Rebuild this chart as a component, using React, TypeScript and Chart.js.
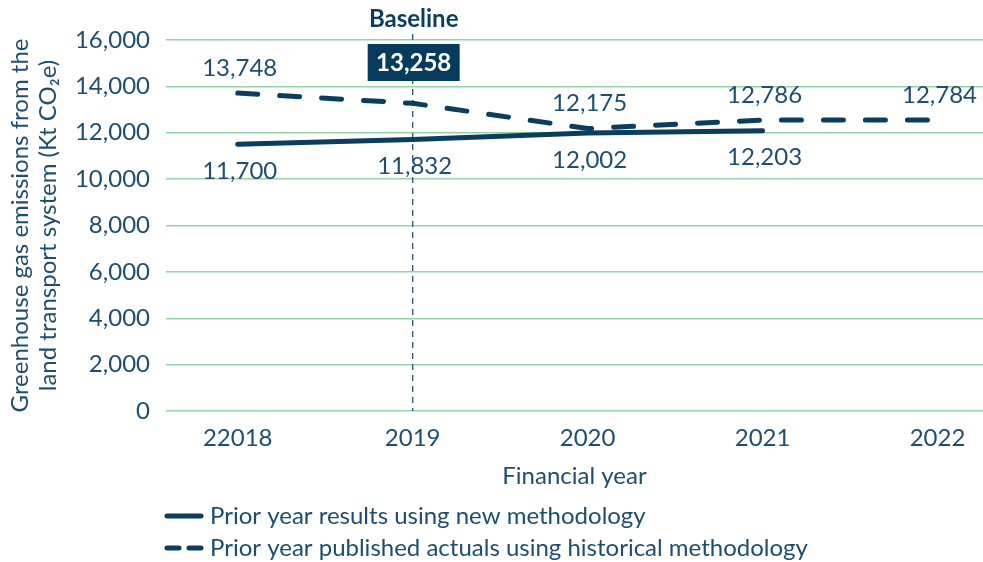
import React, { useEffect, useRef } from "react";
import { Chart, registerables } from "chart.js";

Chart.register(...registerables);

const categories = ["22018", "2019", "2020", "2021", "2022"];
// values as drawn on the picture
const newMethodValues = [11500, 11710, 11990, 12090];
const historicalValues = [13710, 13270, 12180, 12550, 12550];
// values as printed on the picture
const newMethodLabels = ["11,700", "11,832", "12,002", "12,203"];
const historicalLabels = ["13,748", "13,258", "12,175", "12,786", "12,784"];
const yTicks = [0, 2000, 4000, 6000, 8000, 10000, 12000, 14000, 16000];
const baselineIndex = 1;
const seriesNames = [
  "Prior year results using new methodology",
  "Prior year published actuals using historical methodology",
];

const NAVY = "#0a3d5e";
const TEXT = "#1e4d6e";
const GRID = "#93d4a6";
const FONT = "Lato";
const FS = 24;

export default function App() {
  const ref = useRef<HTMLCanvasElement>(null);
  useEffect(() => {
    document.body.style.margin = "0";
    const canvas = ref.current!;
    const overlay = {
      id: "overlay",
      beforeDatasetsDraw(chart: any) {
        const { ctx, chartArea, scales } = chart;
        const x = scales.x.getPixelForValue(baselineIndex);
        ctx.save();
        ctx.strokeStyle = "#2c5575";
        ctx.lineWidth = 1.3;
        ctx.setLineDash([6, 5]);
        ctx.beginPath();
        ctx.moveTo(x, chartArea.top - 6);
        ctx.lineTo(x, chartArea.bottom);
        ctx.stroke();
        ctx.restore();
      },
      afterDraw(chart: any) {
        const { ctx, scales } = chart;
        const xs = scales.x, ys = scales.y;
        ctx.save();
        ctx.textAlign = "center";
        ctx.textBaseline = "middle";
        const bx = xs.getPixelForValue(baselineIndex);
        ctx.fillStyle = NAVY;
        ctx.font = `bold ${FS}px ${FONT}`;
        ctx.fillText("Baseline", bx + 1, 19);
        ctx.font = `${FS}px ${FONT}`;
        historicalValues.forEach((v, i) => {
          const px = xs.getPixelForValue(i);
          const py = ys.getPixelForValue(v);
          if (i === baselineIndex) {
            ctx.fillStyle = "#063b5c";
            ctx.fillRect(px - 45, 44, 92, 37);
            ctx.fillStyle = "#ffffff";
            ctx.font = `bold 24px ${FONT}`;
            ctx.fillText(historicalLabels[i], px + 1, 63);
            ctx.font = `${FS}px ${FONT}`;
          } else {
            ctx.fillStyle = TEXT;
            ctx.fillText(historicalLabels[i], px + 2, py - 25);
          }
        });
        newMethodValues.forEach((v, i) => {
          const px = xs.getPixelForValue(i);
          const py = ys.getPixelForValue(v);
          ctx.fillStyle = TEXT;
          ctx.fillText(newMethodLabels[i], px + 2, py + 27);
        });
        // legend
        const rows = [516, 548];
        ctx.textAlign = "left";
        chart.data.datasets.forEach((ds: any, i: number) => {
          const y = rows[i];
          ctx.strokeStyle = NAVY;
          ctx.lineWidth = 5;
          ctx.lineCap = "round";
          ctx.beginPath();
          if (i === 0) {
            ctx.moveTo(167, y);
            ctx.lineTo(201, y);
          } else {
            ctx.moveTo(167, y);
            ctx.lineTo(179, y);
            ctx.moveTo(189, y);
            ctx.lineTo(201, y);
          }
          ctx.stroke();
          ctx.fillStyle = TEXT;
          ctx.font = `${FS}px ${FONT}`;
          ctx.fillText(ds.label, 210, y);
        });
        ctx.restore();
      },
    };
    const chart = new Chart(canvas, {
      type: "line",
      data: {
        datasets: [
          {
            label: seriesNames[0],
            data: newMethodValues.map((v, i) => ({ x: i, y: v })),
            borderColor: NAVY,
            borderWidth: 5,
            borderCapStyle: "round",
            pointRadius: 0,
            tension: 0,
          },
          {
            label: seriesNames[1],
            data: historicalValues.map((v, i) => ({ x: i, y: v })),
            borderColor: NAVY,
            borderWidth: 5,
            borderDash: [20, 22],
            borderCapStyle: "round",
            pointRadius: 0,
            tension: 0,
          },
        ],
      },
      options: {
        animation: false,
        responsive: false,
        maintainAspectRatio: false,
        layout: { padding: { top: 40, right: 0, bottom: 71, left: 0 } },
        plugins: { legend: { display: false }, tooltip: { enabled: false } },
        scales: {
          x: {
            type: "linear",
            min: -0.41,
            max: 4.26,
            grid: { display: false, drawTicks: false },
            border: { display: false },
            afterBuildTicks: (s: any) => {
              s.ticks = categories.map((_, i) => ({ value: i }));
            },
            afterFit: (s: any) => {
              s.height = 80;
            },
            ticks: {
              padding: 12.5,
              color: TEXT,
              font: { family: FONT, size: FS },
              autoSkip: false,
              maxRotation: 0,
              callback: (v: any) => categories[v] ?? "",
            },
            title: {
              display: true,
              text: "Financial year",
              color: TEXT,
              font: { family: FONT, size: FS },
              padding: { top: 0, bottom: 0 },
            },
          },
          y: {
            min: 0,
            max: 16000,
            afterBuildTicks: (s: any) => {
              s.ticks = yTicks.map((v) => ({ value: v }));
            },
            afterFit: (s: any) => {
              s.width = 166;
            },
            grid: { color: GRID, lineWidth: 1.5, drawTicks: false },
            border: { display: false },
            ticks: {
              padding: 16,
              color: TEXT,
              font: { family: FONT, size: FS },
              callback: (v: any) => Number(v).toLocaleString("en-US"),
            },
            title: {
              display: true,
              text: ["Greenhouse gas emissions from the", "land transport system (Kt CO\u2082e)"],
              color: TEXT,
              font: { family: FONT, size: FS, lineHeight: 1.2 },
              padding: { top: 5.5, bottom: 0 },
            },
          },
        },
      },
      plugins: [overlay],
    } as any);
    return () => chart.destroy();
  }, []);
  return (
    <div style={{ width: 983, height: 562 }}>
      <canvas ref={ref} width={983} height={562} style={{ display: "block" }} />
    </div>
  );
}
